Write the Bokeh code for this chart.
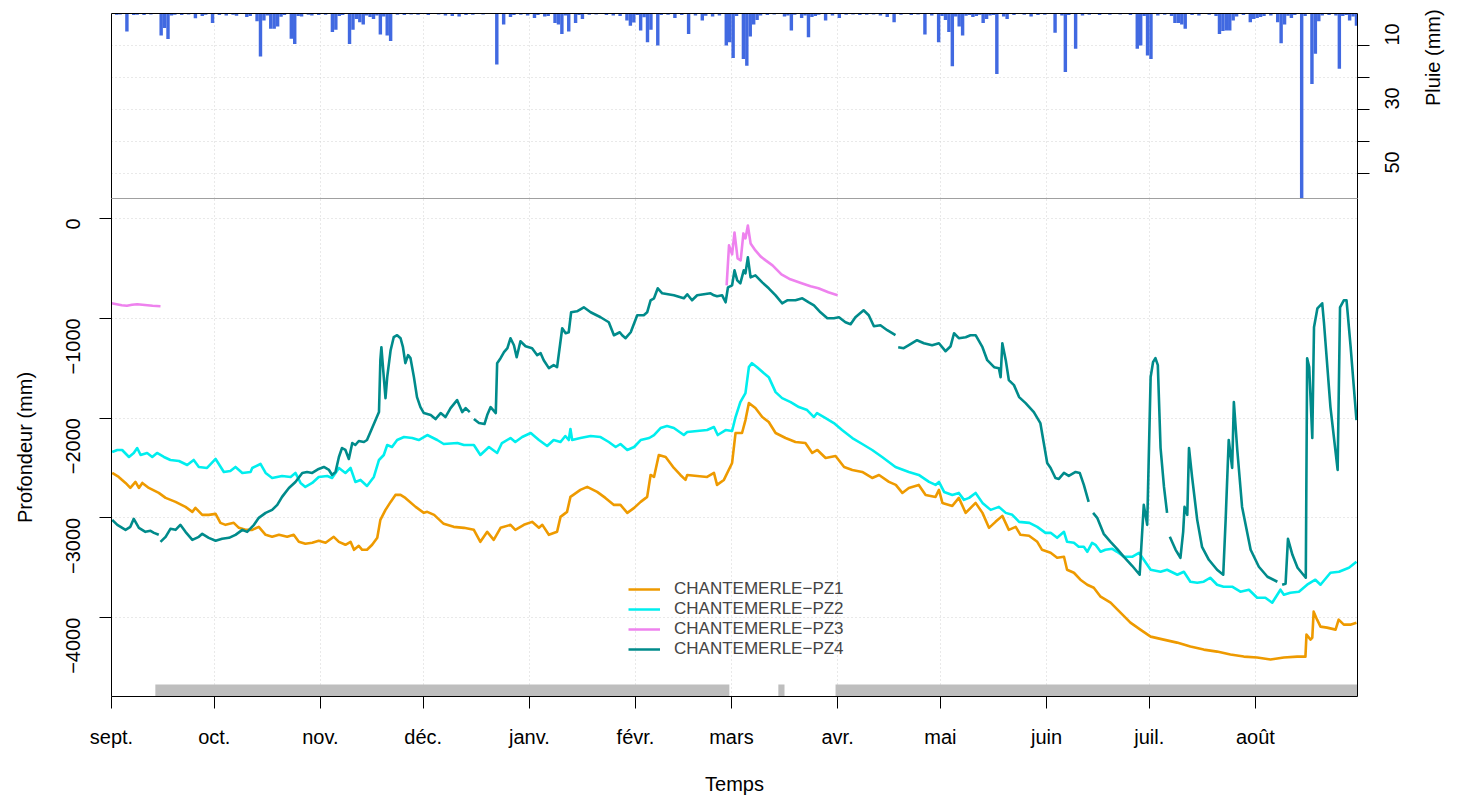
import math
from bokeh.plotting import figure
from bokeh.layouts import column
from bokeh.models import (Range1d, LinearAxis, FixedTicker, Legend, LegendItem, Grid)
from bokeh.embed import file_html
from bokeh.resources import INLINE

NAN = float("nan")

# ---- axes (days counted from 1 September) ----
month_ticks = [0, 30, 61, 91, 122, 153, 181, 212, 242, 273, 303, 334]
month_labels = ["sept.", "oct.", "nov.", "déc.", "janv.", "févr.", "mars",
                "avr.", "mai", "juin", "juil.", "août"]
depth_ticks = [0, -1000, -2000, -3000, -4000]
rain_ticks = [10, 20, 30, 40, 50]
rain_tick_labels = ["10", "", "30", "", "50"]

# ---- daily rain (mm) ----
rain_day = [4, 14, 15, 16, 24, 29, 39, 42, 43, 44, 46, 47, 48, 52, 53, 55, 64, 65,
            69, 70, 71, 72, 73, 75, 76, 78, 79, 80, 81, 101, 112, 114, 116, 123,
            126, 129, 130, 131, 133, 135, 137, 150, 151, 152, 154, 156, 157, 159,
            164, 168, 172, 175, 179, 180, 181, 184, 185, 186, 187, 188, 196, 198,
            201, 203, 204, 208, 212, 226, 228, 237, 241, 243, 244, 245, 247, 248,
            251, 254, 255, 258, 261, 268, 275, 278, 281, 299, 300, 302, 303, 310,
            311, 312, 313, 323, 324, 325, 326, 327, 332, 333, 335, 340, 341, 342,
            344, 347, 350, 351, 352, 358, 361, 362, 363,
            1, 2, 6, 7, 9, 11, 17, 18, 20, 22, 26, 27, 31, 33, 35, 36, 40, 45, 49,
            50, 54, 57, 58, 60, 62, 66, 67, 74, 77, 83, 85, 87, 89, 92, 95, 97, 99,
            103, 105, 108, 117, 119, 121, 124, 127, 132, 136, 139, 141, 144, 146,
            148, 153, 155, 160, 162, 166, 170, 173, 177, 182, 189, 191, 193, 197,
            199, 202, 205, 206, 210, 214, 216, 218, 220, 222, 224, 230, 233, 235,
            239, 242, 246, 249, 250, 252, 253, 256, 257, 260, 263, 266, 270, 272,
            277, 279, 283, 285, 288, 291, 294, 297, 301, 305, 307, 309, 315, 317,
            320, 322, 328, 330, 334, 336, 338, 343, 345, 348, 353, 355, 357, 359, 360]
rain_mm = [5.6, 6.9, 4.5, 8.0, 1.5, 3.0, 1.1, 2.4, 13.4, 2.2, 4.8, 4.8, 4.1, 7.9, 9.5,
           0.9, 5.8, 5.1, 9.5, 5.1, 1.7, 2.7, 3.4, 1.1, 1.7, 6.6, 0.9, 6.9, 8.6, 0.9,
           15.9, 3.4, 1.1, 1.4, 0.9, 3.0, 3.4, 6.4, 5.6, 3.0, 1.7, 2.2, 3.8, 2.8, 5.3,
           9.0, 5.1, 10.0, 1.4, 6.4, 2.2, 0.9, 10.0, 9.0, 13.9, 14.2, 16.3, 7.2, 3.4,
           2.0, 0.9, 5.3, 1.4, 7.4, 1.1, 2.2, 1.4, 1.1, 2.7, 6.6, 9.0, 2.0, 5.8, 16.5,
           4.1, 6.9, 1.1, 3.0, 1.7, 18.9, 1.7, 0.9, 6.0, 18.3, 11.0, 11.0, 10.0, 13.1,
           14.2, 3.0, 3.0, 3.4, 4.8, 6.4, 5.5, 5.3, 5.3, 2.2, 2.7, 1.7, 1.1, 2.7, 9.3,
           3.4, 1.4, 57.8, 22.0, 12.6, 2.4, 17.3, 2.2, 0.9, 3.8,
           0.4, 0.3, 0.5, 0.4, 0.5, 0.3, 0.6, 0.4, 0.5, 0.3, 0.8, 0.4, 0.5, 0.6, 0.4,
           0.7, 0.8, 0.6, 1.0, 0.5, 0.8, 0.4, 0.6, 0.5, 0.4, 0.8, 0.5, 0.6, 0.6, 0.4,
           0.5, 0.3, 0.4, 0.5, 0.3, 0.6, 0.8, 0.5, 0.4, 0.3, 0.5, 0.4, 0.6, 0.5, 0.8,
           0.6, 0.5, 0.4, 0.3, 0.5, 0.6, 0.8, 0.5, 1.2, 0.5, 0.4, 0.5, 0.6, 0.7, 0.6,
           0.8, 0.6, 0.5, 0.3, 0.6, 0.4, 0.6, 0.8, 0.4, 0.6, 0.4, 0.3, 0.5, 0.4, 0.3,
           0.6, 0.4, 0.5, 0.3, 0.6, 0.8, 0.9, 0.7, 0.5, 0.8, 0.4, 0.6, 0.5, 0.9, 0.5,
           0.4, 0.5, 0.4, 0.6, 0.5, 0.6, 0.4, 0.5, 0.4, 0.3, 0.5, 0.8, 0.6, 0.4, 0.8,
           0.5, 0.6, 0.4, 0.8, 0.9, 0.5, 1.4, 0.8, 0.6, 0.7, 0.5, 0.8, 0.6, 0.5, 0.6,
           0.8, 0.5]

# ---- piezometers: depth (mm), NaN = gap in record ----
pz1_day = [0.2, 2.1, 4.1, 5.5, 7.0, 8.0, 9.0, 10.9, 13.8, 15.8, 18.7, 21.6, 23.6, 24.5,
           26.5, 28.4, 30.4, 31.8, 33.3, 35.7, 37.2, 39.1, 41.1, 43.0, 45.0, 46.9, 48.9,
           51.3, 53.2, 54.7, 56.6, 58.6, 60.5, 62.5, 64.9, 66.4, 68.3, 69.8, 70.8, 72.2,
           73.2, 74.6, 76.1, 77.6, 78.5, 80.0, 81.5, 82.9, 84.4, 85.8, 88.8, 91.2, 92.2,
           94.2, 97.0, 99.9, 102.9, 105.8, 107.7, 109.7, 111.6, 113.6, 116.5, 117.9,
           120.4, 122.8, 124.8, 125.8, 127.7, 130.1, 131.1, 133.0, 134.0, 136.9, 138.9,
           141.8, 144.2, 146.7, 148.6, 150.6, 152.6, 154.5, 156.4, 157.4, 158.4, 159.8,
           161.8, 164.2, 166.1, 167.6, 168.1, 171.0, 173.9, 175.9, 176.8, 178.8, 181.2,
           182.2, 184.1, 185.1, 186.1, 188.0, 190.0, 191.9, 193.9, 196.8, 199.7, 202.6,
           204.6, 206.1, 208.5, 211.4, 213.9, 216.3, 219.2, 222.1, 224.1, 227.0, 229.0,
           230.9, 232.8, 235.7, 237.7, 240.6, 241.6, 242.6, 245.5, 247.4, 249.4, 252.3,
           254.3, 256.2, 258.1, 260.1, 262.0, 264.0, 265.4, 267.9, 270.3, 271.7, 274.2,
           276.1, 278.1, 279.0, 281.0, 282.9, 284.9, 286.8, 288.8, 291.7, 294.6, 297.5,
           300.4, 303.4, 307.2, 311.1, 315.0, 318.9, 322.8, 326.7, 330.6, 334.5, 338.4,
           342.3, 346.2, 348.6, 348.9, 350.1, 350.6, 351.0, 352.0, 353.0, 354.9, 357.4,
           358.3, 359.8, 361.7, 363.5]
pz1_mm = [-2550, -2590, -2650, -2700, -2640, -2700, -2650, -2700, -2750, -2800, -2840,
          -2890, -2940, -2900, -2970, -2970, -2960, -3050, -3070, -3050, -3100, -3120,
          -3120, -3090, -3170, -3190, -3170, -3190, -3170, -3240, -3260, -3250, -3230,
          -3250, -3190, -3240, -3270, -3240, -3320, -3280, -3320, -3320, -3270, -3200,
          -3020, -2920, -2840, -2770, -2770, -2800, -2890, -2950, -2940, -2970, -3060,
          -3090, -3100, -3120, -3240, -3140, -3220, -3100, -3070, -3120, -3070, -3040,
          -3100, -3070, -3170, -3140, -2990, -2940, -2790, -2720, -2690, -2740, -2800,
          -2870, -2870, -2950, -2900, -2840, -2790, -2570, -2590, -2370, -2390, -2500,
          -2570, -2620, -2570, -2580, -2590, -2550, -2670, -2620, -2450, -2150, -2150,
          -2020, -1850, -1900, -1990, -2040, -2150, -2200, -2240, -2250, -2350, -2320,
          -2400, -2380, -2490, -2520, -2540, -2600, -2570, -2640, -2670, -2750, -2700,
          -2670, -2770, -2790, -2720, -2850, -2880, -2800, -2950, -2850, -2950, -3100,
          -3040, -2980, -3120, -3090, -3170, -3180, -3240, -3320, -3350, -3400, -3390,
          -3520, -3550, -3620, -3670, -3700, -3790, -3850, -3950, -4050, -4120, -4190,
          -4220, -4250, -4290, -4320, -4340, -4370, -4390, -4400, -4420, -4400, -4390,
          -4390, -4170, -4220, -4200, -3940, -4020, -4090, -4100, -4120, -4020, -4070,
          -4070, -4050]

pz2_day = [0.2, 1.7, 3.1, 5.1, 6.5, 7.5, 8.5, 10.4, 11.9, 13.3, 15.3, 17.2, 19.7, 22.1,
           24.0, 25.5, 27.9, 30.4, 32.8, 34.7, 36.2, 38.2, 40.6, 41.1, 43.5, 45.0, 46.9,
           49.8, 52.3, 53.7, 55.2, 56.6, 58.6, 60.5, 63.0, 64.4, 66.4, 68.3, 69.8, 71.2,
           72.7, 74.6, 76.6, 78.1, 79.5, 80.5, 81.9, 83.4, 85.4, 87.8, 89.7, 92.2, 95.1,
           97.0, 101.0, 102.9, 105.8, 107.7, 110.2, 112.6, 114.0, 116.5, 117.9, 119.9,
           122.4, 124.8, 127.2, 129.1, 131.1, 132.5, 133.5, 134.0, 134.5, 136.9, 139.9,
           142.8, 145.2, 147.2, 148.6, 150.6, 152.6, 154.5, 157.0, 158.4, 160.3, 162.2,
           164.2, 167.1, 168.1, 171.0, 173.9, 175.9, 177.0, 179.3, 181.2, 182.2, 183.6,
           185.1, 186.1, 187.0, 188.5, 190.5, 191.9, 193.9, 195.8, 198.3, 200.7, 203.1,
           205.1, 206.0, 208.5, 210.9, 213.3, 216.3, 219.2, 222.1, 225.0, 228.9, 232.8,
           235.7, 238.7, 240.6, 241.6, 243.1, 245.5, 247.4, 248.9, 250.4, 252.3, 254.3,
           256.7, 259.1, 261.1, 263.0, 265.0, 268.0, 270.3, 272.7, 274.2, 276.1, 278.1,
           279.0, 281.0, 282.4, 283.9, 284.9, 286.3, 287.3, 288.8, 290.2, 292.2, 293.6,
           295.6, 298.0, 300.0, 301.4, 303.4, 306.3, 308.2, 311.2, 313.1, 315.0, 317.0,
           318.9, 320.8, 322.8, 324.7, 327.2, 329.6, 332.1, 334.5, 336.9, 338.9, 341.3,
           342.3, 344.2, 346.7, 349.1, 351.5, 353.0, 355.9, 358.4, 361.3, 363.5]
pz2_mm = [-2340, -2320, -2320, -2390, -2350, -2300, -2370, -2350, -2390, -2350, -2390,
          -2420, -2430, -2470, -2420, -2490, -2500, -2410, -2540, -2530, -2490, -2550,
          -2540, -2500, -2460, -2550, -2600, -2580, -2590, -2550, -2650, -2690, -2650,
          -2590, -2580, -2600, -2500, -2550, -2500, -2640, -2620, -2680, -2590, -2420,
          -2370, -2270, -2290, -2220, -2190, -2200, -2220, -2170, -2220, -2260, -2250,
          -2270, -2270, -2370, -2290, -2350, -2250, -2200, -2240, -2190, -2150, -2220,
          -2280, -2220, -2240, -2180, -2220, -2110, -2220, -2200, -2180, -2190, -2240,
          -2290, -2260, -2320, -2290, -2220, -2200, -2170, -2100, -2080, -2100, -2170,
          -2140, -2130, -2120, -2090, -2170, -2120, -2130, -1990, -1840, -1750, -1490,
          -1450, -1490, -1550, -1590, -1740, -1800, -1840, -1890, -1920, -1990, -1950,
          -2000, -2050, -2120, -2200, -2260, -2320, -2390, -2490, -2540, -2570, -2640,
          -2670, -2640, -2740, -2770, -2750, -2820, -2800, -2750, -2850, -2920, -2890,
          -2950, -2970, -3040, -3050, -3090, -3150, -3150, -3200, -3140, -3240, -3250,
          -3290, -3290, -3340, -3250, -3270, -3340, -3320, -3310, -3340, -3390, -3390,
          -3350, -3420, -3520, -3540, -3520, -3570, -3540, -3640, -3650, -3640, -3600,
          -3670, -3690, -3690, -3740, -3720, -3800, -3800, -3850, -3720, -3770, -3750,
          -3740, -3670, -3620, -3670, -3550, -3540, -3500, -3440]

pz3_day = [0.0, 1.5, 3.0, 4.5, 6.0, 7.5, 9.0, 10.5, 12.0, 14.3, NAN,
           179.6, 180.3, 181.2, 181.9, 182.8, 183.7, 184.5, 185.1, 185.8, 186.6, 188.0,
           189.5, 191.0, 193.0, 195.6, 198.2, 201.5, 204.1, 206.4, 209.3, 212.0]
pz3_mm = [-850, -860, -870, -875, -865, -860, -865, -870, -875, -880, NAN,
          -670, -270, -360, -140, -400, -420, -150, -200, -70, -250, -320,
          -380, -420, -470, -560, -610, -650, -680, -700, -740, -770]

pz4_day = [0.2, 1.7, 4.1, 5.5, 6.5, 8.0, 9.9, 11.4, 12.4, 13.8, NAN,
           14.3, 15.8, 17.2, 18.7, 20.1, 21.6, 23.6, 25.5, 26.5, 28.4, 30.4, 32.3, 34.3,
           36.2, 38.2, 39.6, 41.6, 43.0, 45.0, 46.9, 48.4, 49.8, 51.8, 53.7, 55.7, 57.1,
           58.6, 60.5, 62.0, 63.5, 64.4, 65.4, 66.4, 67.3, 68.3, 69.3, 70.3, 71.2, 72.2,
           73.7, 74.6, 75.6, 77.1, 78.1, 78.5, 78.8, 79.5, 80.0, 80.5, 81.5, 82.4, 83.4,
           84.4, 85.1, 85.8, 86.6, 87.3, 88.3, 89.2, 90.2, 91.2, 93.2, 94.6, 96.1, 97.5,
           99.0, 100.9, 102.4, 103.4, 104.6, NAN,
           105.8, 107.3, 108.9, 109.7, 110.7, 112.2, 112.6, 113.6, 114.6, 115.6, 116.5,
           117.5, 118.3, 119.4, 120.9, 122.8, 124.3, 125.3, 126.2, 127.7, 129.1, 130.1,
           131.6, 132.6, 133.5, 134.2, 135.9, 137.9, 139.9, 142.8, 145.2, 146.7, 148.4,
           149.1, 150.1, 151.6, 153.5, 155.4, 156.4, 157.4, 158.4, 159.5, 160.8, 164.2,
           167.1, 168.1, 169.5, 171.0, 174.9, 175.9, 176.8, 178.3, 179.3, 180.0, 181.2,
           181.9, 182.7, 183.6, 184.6, 185.1, 185.8, 186.6, 188.0, 190.0, 191.9, 193.9,
           195.8, 197.3, 199.7, 201.7, 203.6, 205.1, 207.0, 209.0, 210.9, 212.4, 214.3,
           215.8, 217.2, 219.6, 221.1, 222.6, 224.5, 226.5, 228.9, NAN,
           229.7, 231.3, 232.8, 235.2, 237.2, 239.6, 241.6, 243.5, 245.0, 246.0, 247.4,
           249.4, 250.8, 252.3, 254.3, 255.7, 257.7, 259.1, 259.6, 260.1, 261.1, 262.0,
           263.5, 265.0, 266.9, 269.3, 271.2, 272.2, 273.2, 274.2, 275.6, 276.6, 278.1,
           279.5, 281.5, 282.7, 283.9, 285.3, NAN,
           286.6, 287.8, 289.7, 291.7, 293.6, 295.6, 298.0, 300.2, 301.4, 302.4, 303.4,
           304.1, 304.8, 305.5, 306.3, 307.3, 308.2, NAN,
           309.0, 310.7, 312.1, 312.9, 313.3, 314.1, 314.6, 315.5, 317.0, 318.4, 320.4,
           322.8, 324.6, 325.3, 326.2, 327.2, 327.7, 328.7, 330.1, 332.6, 335.0, 337.5,
           340.4, NAN,
           341.8, 342.8, 343.5, 344.8, 346.3, 348.7, 349.1, 349.7, 350.6, 351.1, 352.1,
           353.5, 354.0, 355.9, 358.0, 358.7, 359.8, 360.6, 361.8, 363.5]
pz4_mm = [-3020, -3070, -3120, -3090, -3010, -3100, -3140, -3130, -3150, -3170, NAN,
          -3240, -3190, -3110, -3120, -3070, -3140, -3220, -3190, -3160, -3200, -3230,
          -3210, -3200, -3170, -3120, -3140, -3070, -3000, -2950, -2920, -2870, -2790,
          -2700, -2640, -2550, -2540, -2550, -2510, -2490, -2520, -2570, -2540, -2390,
          -2300, -2320, -2410, -2250, -2270, -2230, -2240, -2220, -2140, -2020, -1940,
          -1420, -1290, -1590, -1800, -1590, -1320, -1190, -1170, -1200, -1290, -1450,
          -1370, -1400, -1590, -1790, -1890, -1950, -1970, -2010, -1950, -1990, -1900,
          -1820, -1940, -1900, -1940, NAN,
          -2010, -2050, -2060, -1970, -1890, -1950, -1450, -1400, -1340, -1300, -1200,
          -1270, -1390, -1230, -1280, -1300, -1370, -1350, -1420, -1500, -1470, -1490,
          -1100, -1150, -1140, -940, -930, -890, -940, -990, -1040, -1170, -1140, -1170,
          -1200, -1140, -970, -970, -940, -820, -800, -700, -750, -770, -800, -760,
          -820, -770, -750, -770, -780, -770, -840, -690, -670, -520, -620, -650, -520,
          -550, -390, -590, -570, -640, -700, -770, -850, -820, -820, -800, -840, -870,
          -940, -1000, -1000, -990, -1040, -1060, -990, -920, -970, -1080, -1070, -1120,
          -1170, NAN,
          -1290, -1300, -1270, -1220, -1250, -1270, -1250, -1330, -1280, -1150, -1200,
          -1190, -1170, -1170, -1290, -1420, -1490, -1500, -1590, -1250, -1420, -1620,
          -1670, -1790, -1850, -1940, -2050, -2250, -2450, -2500, -2600, -2610, -2550,
          -2580, -2540, -2550, -2670, -2840, NAN,
          -2950, -3000, -3160, -3240, -3310, -3390, -3480, -3570, -2870, -3070, -1590,
          -1440, -1400, -1470, -2300, -2690, -2950, NAN,
          -3190, -3320, -3400, -3140, -2890, -2970, -2300, -2590, -3020, -3290, -3420,
          -3520, -3570, -3020, -2220, -2500, -1840, -2320, -2890, -3320, -3490, -3590,
          -3640, NAN,
          -3670, -3660, -3210, -3370, -3500, -3600, -1400, -1490, -2200, -1090, -900,
          -850, -1040, -1890, -2520, -890, -820, -820, -1290, -2020]

# periods with data (days)
avail_start = [12.8, 194.7, 211.4]
avail_end = [180.4, 196.5, 363.8]

series_names = ["CHANTEMERLE\u2212PZ1", "CHANTEMERLE\u2212PZ2",
                "CHANTEMERLE\u2212PZ3", "CHANTEMERLE\u2212PZ4"]
series_colors = ["#EE9A00", "#00EEEE", "#EE82EE", "#008B8B"]

FONT = "Liberation Sans"
W = 1457
LEFT, RIGHT = 111, 100

xr = Range1d(0, 363.8)


def style_axis(ax, standoff):
    ax.axis_line_color = "black"
    ax.major_tick_line_color = "black"
    ax.major_tick_out = 12
    ax.major_tick_in = 0
    ax.minor_tick_line_color = None
    ax.major_label_text_font = FONT
    ax.major_label_text_font_size = "20px"
    ax.major_label_text_color = "black"
    ax.major_label_standoff = standoff
    ax.axis_label_text_font = FONT
    ax.axis_label_text_font_size = "20px"
    ax.axis_label_text_font_style = "normal"
    ax.axis_label_text_color = "black"


def bare_axis(color, **kw):
    return LinearAxis(ticker=FixedTicker(ticks=[]), axis_line_color=color,
                      major_tick_line_color=None, minor_tick_line_color=None,
                      major_tick_out=0, major_tick_in=0, major_label_standoff=0,
                      major_label_text_font_size="0px", **kw)


def add_grids(fig, yticks):
    for g in (Grid(dimension=0, ticker=FixedTicker(ticks=month_ticks)),
              Grid(dimension=1, ticker=FixedTicker(ticks=yticks))):
        g.grid_line_color = "#D3D3D3"
        g.grid_line_dash = [1, 3]
        g.grid_line_width = 1
        fig.add_layout(g)


# ---------------- top panel: rain ----------------
top = figure(width=W, height=198, output_backend="svg", toolbar_location=None,
             x_range=xr, y_range=Range1d(57.8125, 0),
             x_axis_type=None, y_axis_type=None,
             min_border_left=LEFT, min_border_right=RIGHT, min_border_top=13,
             min_border_bottom=0)
top.outline_line_color = None
top.add_layout(bare_axis("black"), "left")
top.add_layout(bare_axis("black"), "above")
raxis = LinearAxis(ticker=FixedTicker(ticks=rain_ticks),
                   major_label_overrides={t: l for t, l in zip(rain_ticks, rain_tick_labels)},
                   axis_label="Pluie (mm)")
style_axis(raxis, 22)
raxis.major_label_orientation = math.pi / 2
raxis.axis_label_standoff = 24
if "axis_label_orientation" in raxis.properties():
    raxis.axis_label_orientation = math.pi / 2
top.add_layout(raxis, "right")
add_grids(top, rain_ticks)
top.vbar(x=[d + 0.5 for d in rain_day], width=1.0, top=0, bottom=rain_mm,
         fill_color="#4169E1", line_color=None)

# ---------------- bottom panel: depth ----------------
bot = figure(width=W, height=599, output_backend="svg", toolbar_location=None,
             x_range=xr, y_range=Range1d(-4790, 200),
             x_axis_type=None, y_axis_type=None,
             min_border_left=LEFT, min_border_right=RIGHT, min_border_top=0,
             min_border_bottom=100)
bot.outline_line_color = None
bot.add_layout(bare_axis("#A0A0A0"), "above")
bot.add_layout(bare_axis("black"), "right")
xaxis = LinearAxis(ticker=FixedTicker(ticks=month_ticks),
                   major_label_overrides={t: l for t, l in zip(month_ticks, month_labels)},
                   axis_label="Temps")
style_axis(xaxis, 17)
xaxis.axis_label_standoff = 22
yaxis = LinearAxis(ticker=FixedTicker(ticks=depth_ticks), axis_label="Profondeur (mm)")
style_axis(yaxis, 26)
yaxis.major_label_orientation = math.pi / 2
yaxis.axis_label_standoff = 21
bot.add_layout(xaxis, "below")
bot.add_layout(yaxis, "left")
add_grids(bot, depth_ticks)

bot.quad(left=avail_start, right=avail_end, bottom=-4790, top=-4670,
         fill_color="#BEBEBE", line_color=None)

renderers = []
for (dd, vv), col in zip([(pz1_day, pz1_mm), (pz2_day, pz2_mm), (pz3_day, pz3_mm),
                          (pz4_day, pz4_mm)], series_colors):
    r = bot.line(dd, vv, line_color=col, line_width=2.6, line_join="round")
    renderers.append(r)

legend = Legend(items=[LegendItem(label=n, renderers=[r]) for n, r in zip(series_names, renderers)],
                location=(517, 37), orientation="vertical",
                border_line_color=None, background_fill_alpha=0,
                label_text_font=FONT, label_text_font_size="17px",
                glyph_width=32, glyph_height=20, label_height=20,
                label_standoff=14, spacing=0, padding=0, margin=0)
bot.add_layout(legend)

layout = column(top, bot, spacing=0)
open("out.html", "w").write(file_html(layout, INLINE))
